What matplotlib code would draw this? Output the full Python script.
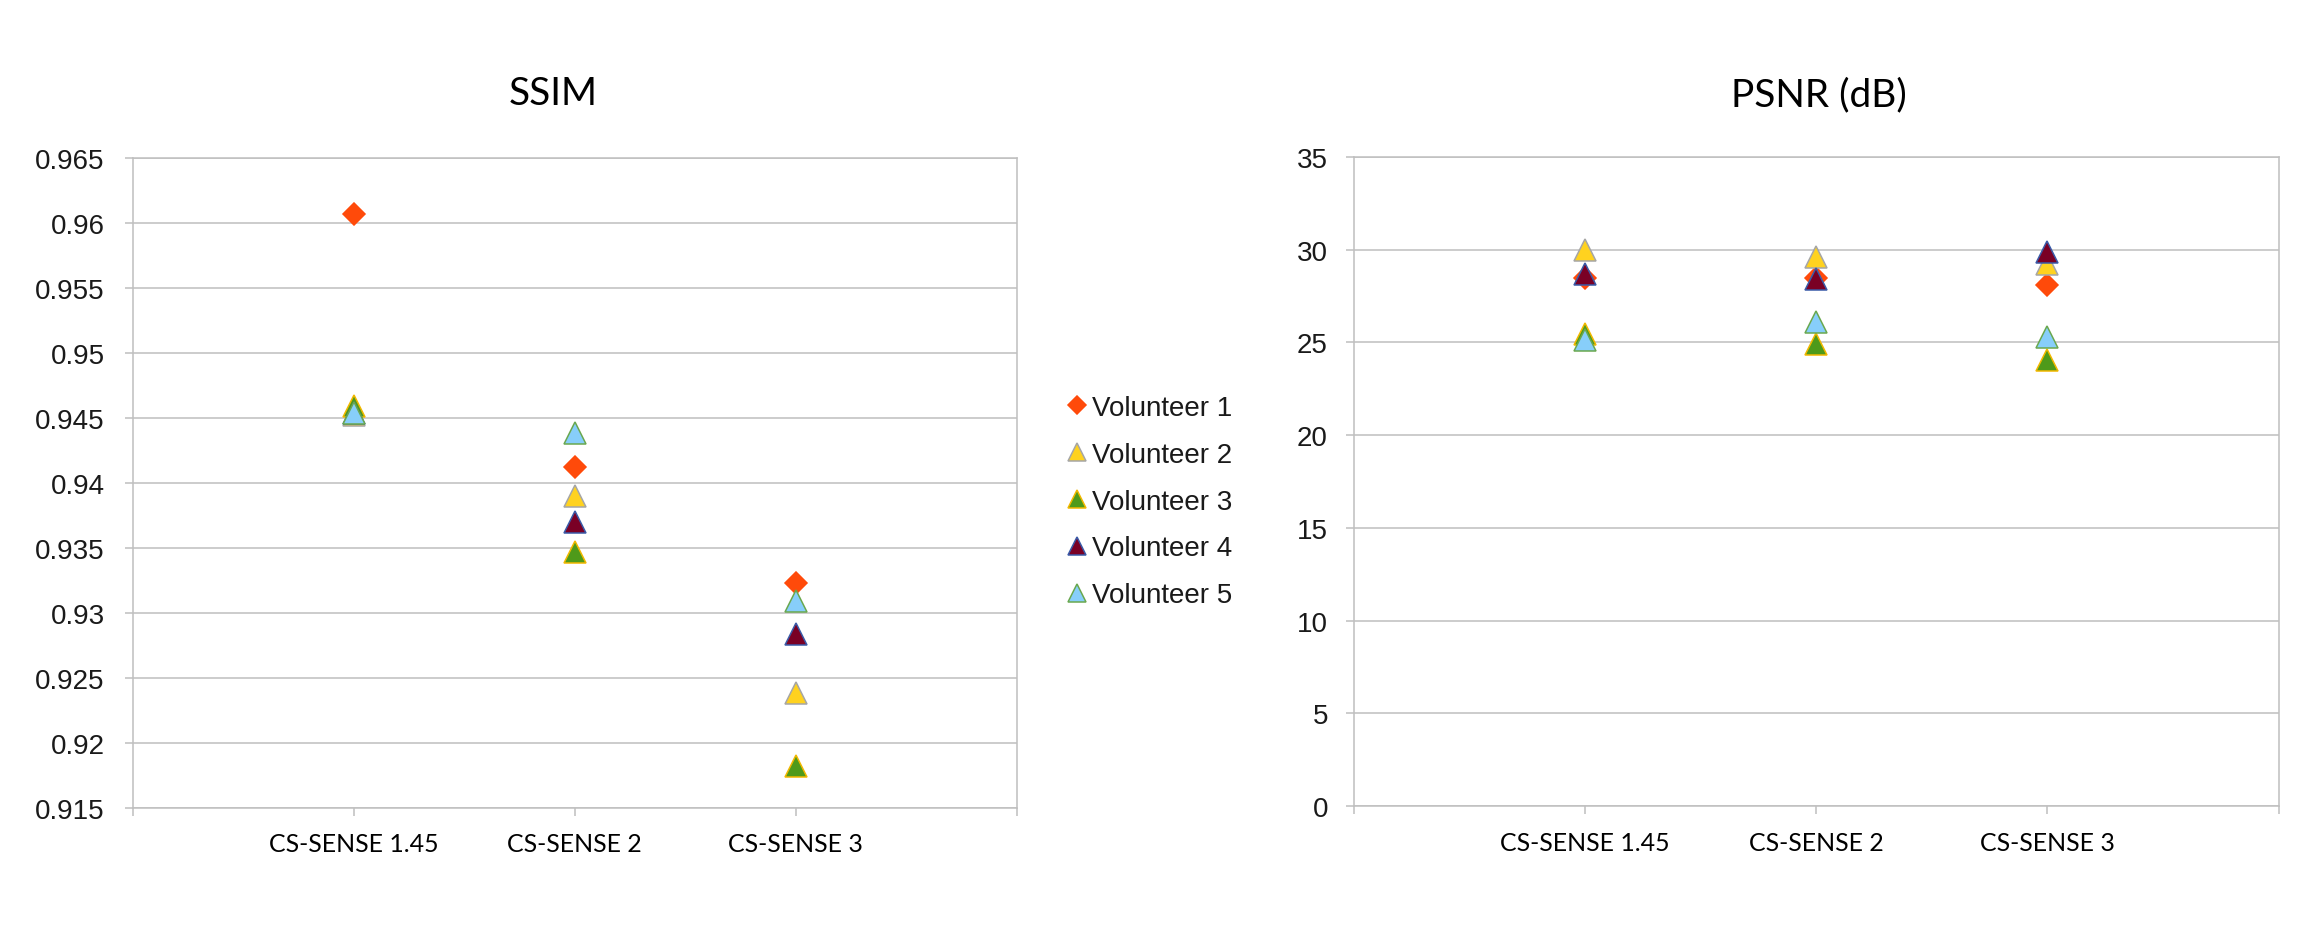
import numpy as np
import matplotlib
matplotlib.use("Agg")
import matplotlib.pyplot as plt
from matplotlib.ticker import FixedLocator, FixedFormatter

# ---------------- data ----------------
categories = ["CS-SENSE 1.45", "CS-SENSE 2", "CS-SENSE 3"]
volunteers = ["Volunteer 1", "Volunteer 2", "Volunteer 3", "Volunteer 4", "Volunteer 5"]

ssim_v1 = [0.9607, 0.9412, 0.9323]
ssim_v2 = [0.9452, 0.9390, 0.9238]
ssim_v3 = [0.9459, 0.9347, 0.9182]
ssim_v4 = [0.9454, 0.9370, 0.9284]
ssim_v5 = [0.9454, 0.9438, 0.9309]

psnr_v1 = [28.5, 28.45, 28.1]
psnr_v2 = [30.0, 29.6, 29.25]
psnr_v3 = [25.45, 24.9, 24.05]
psnr_v4 = [28.7, 28.4, 29.85]
psnr_v5 = [25.15, 26.1, 25.3]

ssim_ticks = [0.915, 0.92, 0.925, 0.93, 0.935, 0.94, 0.945, 0.95, 0.955, 0.96, 0.965]
ssim_tick_labels = ["0.915", "0.92", "0.925", "0.93", "0.935", "0.94", "0.945",
                    "0.95", "0.955", "0.96", "0.965"]
psnr_ticks = [0, 5, 10, 15, 20, 25, 30, 35]
psnr_tick_labels = ["0", "5", "10", "15", "20", "25", "30", "35"]

titles = ["SSIM", "PSNR (dB)"]

# ---------------- styles ----------------
markers = ["D", "^", "^", "^", "^"]
face_colors = ["#FF4A0A", "#FFD21F", "#4E9A1A", "#7A0025", "#87CEFA"]
edge_colors = ["#FF4A0A", "#A6A6A6", "#F2B800", "#3A5BA8", "#6AA84F"]
marker_sizes = [11.5, 16.5, 16.5, 16.5, 16.5]

W, H = 2323, 929
DPI = 100
fig = plt.figure(figsize=(W / DPI, H / DPI), dpi=DPI)

grid_c = "#BFBFBF"
tick_font = "Liberation Sans"
cat_font = "Lato"


def px_rect(left, top, right, bottom):
    return [left / W, 1 - bottom / H, (right - left) / W, (bottom - top) / H]


ax1 = fig.add_axes(px_rect(132.7, 159, 1017, 808.7))
ax2 = fig.add_axes(px_rect(1354, 158, 2278.5, 807))

x = np.arange(len(categories)) + 1

ssim_series = [ssim_v1, ssim_v2, ssim_v3, ssim_v4, ssim_v5]
psnr_series = [psnr_v1, psnr_v2, psnr_v3, psnr_v4, psnr_v5]

handles = []
for ax, series, ticks, tlabels, pad in [
    (ax1, ssim_series, ssim_ticks, ssim_tick_labels, 14.4),
    (ax2, psnr_series, psnr_ticks, psnr_tick_labels, 13.0),
]:
    for i, vals in enumerate(series):
        h, = ax.plot(x, vals, linestyle="none", marker=markers[i],
                     markersize=marker_sizes[i], markerfacecolor=face_colors[i],
                     markeredgecolor=edge_colors[i], markeredgewidth=1.1,
                     label=volunteers[i], zorder=3 + i, clip_on=False)
        if ax is ax1:
            handles.append(h)
    ax.set_xlim(0, len(categories) + 1)
    ax.set_ylim(ticks[0], ticks[-1])
    ax.yaxis.set_major_locator(FixedLocator(ticks))
    ax.yaxis.set_major_formatter(FixedFormatter(tlabels))
    ax.xaxis.set_major_locator(FixedLocator(list(range(len(categories) + 2))))
    ax.xaxis.set_major_formatter(FixedFormatter([""] + categories + [""]))
    ax.grid(axis="y", color=grid_c, linewidth=1.1, zorder=0)
    ax.set_axisbelow(True)
    for s in ax.spines.values():
        s.set_color(grid_c)
        s.set_linewidth(1.1)
    ax.tick_params(axis="y", direction="out", length=5.8, width=1.1, color=grid_c,
                   pad=pad, labelsize=20, labelcolor="#1A1A1A")
    ax.tick_params(axis="x", direction="out", length=5.8, width=1.1, color=grid_c,
                   pad=12, labelsize=17.9, labelcolor="#000000")
    for lab in ax.get_yticklabels():
        lab.set_fontfamily(tick_font)
    for lab in ax.get_xticklabels():
        lab.set_fontfamily(cat_font)

fig.text(553 / W, 1 - 94 / H, titles[0], ha="center", va="center",
         fontsize=28, family=cat_font, color="#000000")
fig.text(1819 / W, 1 - 95 / H, titles[1], ha="center", va="center",
         fontsize=28, family=cat_font, color="#000000")

leg = fig.legend(handles=handles, loc="upper left",
                 bbox_to_anchor=(1067 / W, 1 - 396 / H),
                 bbox_transform=fig.transFigure, frameon=False,
                 borderpad=0, borderaxespad=0, handlelength=0.7,
                 handletextpad=0.2, labelspacing=0.75, markerscale=0.77,
                 prop={"family": tick_font, "size": 20})
for t in leg.get_texts():
    t.set_color("#1A1A1A")

fig.savefig("out.png", dpi=DPI, facecolor="white")
